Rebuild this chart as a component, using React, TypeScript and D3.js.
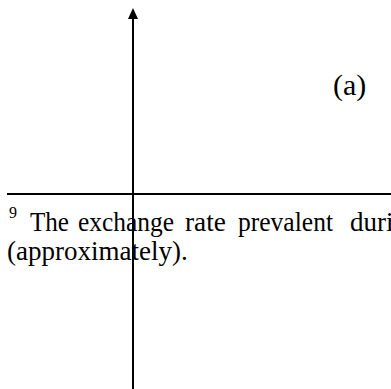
import React from 'react';
import { scaleLinear } from 'd3';

// figure pieces
const panelLabel = '(a)';
const footnoteMark = '9';
const footnoteWords = ['The', 'exchange', 'rate', 'prevalent', 'during'];
const footnoteWordStarts = [30, 78, 185, 238, 350];
const footnoteWordWidths = [39, 96, 41, 95, 0]; // 0 = natural width (runs off the edge)
const footnoteLine2 = '(approximately).';

const width = 391;
const height = 389;
const serif = '"Liberation Serif", "Times New Roman", serif';

const App = () => {
    // y axis of the unfinished panel: 0 at the bottom, arrow at the top
    const yScale = scaleLinear().domain([0, 1]).range([height, 8]);
    const xAxisPos = 133;
    const tip = yScale(1);

    return (
        <svg
            width={width}
            height={height}
            style={{ position: 'absolute', left: 0, top: 0, background: '#fff' }}
        >
            {/* rule above the footnote */}
            <line x1={7} x2={width} y1={194} y2={194} stroke="#000" strokeWidth={2} />

            {/* footnote text (the scan cuts the first line at the right edge) */}
            <text x={9} y={218} fontFamily={serif} fontSize={16} fill="#000">
                {footnoteMark}
            </text>
            <text y={231} fontFamily={serif} fontSize={27} fill="#000">
                {footnoteWords.map((w, i) => (
                    <tspan
                        key={w}
                        x={footnoteWordStarts[i]}
                        textLength={footnoteWordWidths[i] || undefined}
                        lengthAdjust={footnoteWordWidths[i] ? 'spacingAndGlyphs' : undefined}
                    >
                        {w}
                    </tspan>
                ))}
            </text>
            <text x={7} y={260} fontFamily={serif} fontSize={27} fill="#000">
                {footnoteLine2}
            </text>

            <text x={333} y={95} fontFamily={serif} fontSize={30} fill="#000">
                {panelLabel}
            </text>

            {/* vertical axis with arrow */}
            <line x1={xAxisPos} x2={xAxisPos} y1={yScale(0)} y2={tip + 10} stroke="#000" strokeWidth={2} />
            <path
                d={`M${xAxisPos},${tip} L${xAxisPos - 5},${tip + 11} L${xAxisPos + 5},${tip + 11} Z`}
                fill="#000"
            />
        </svg>
    );
};

export default App;
